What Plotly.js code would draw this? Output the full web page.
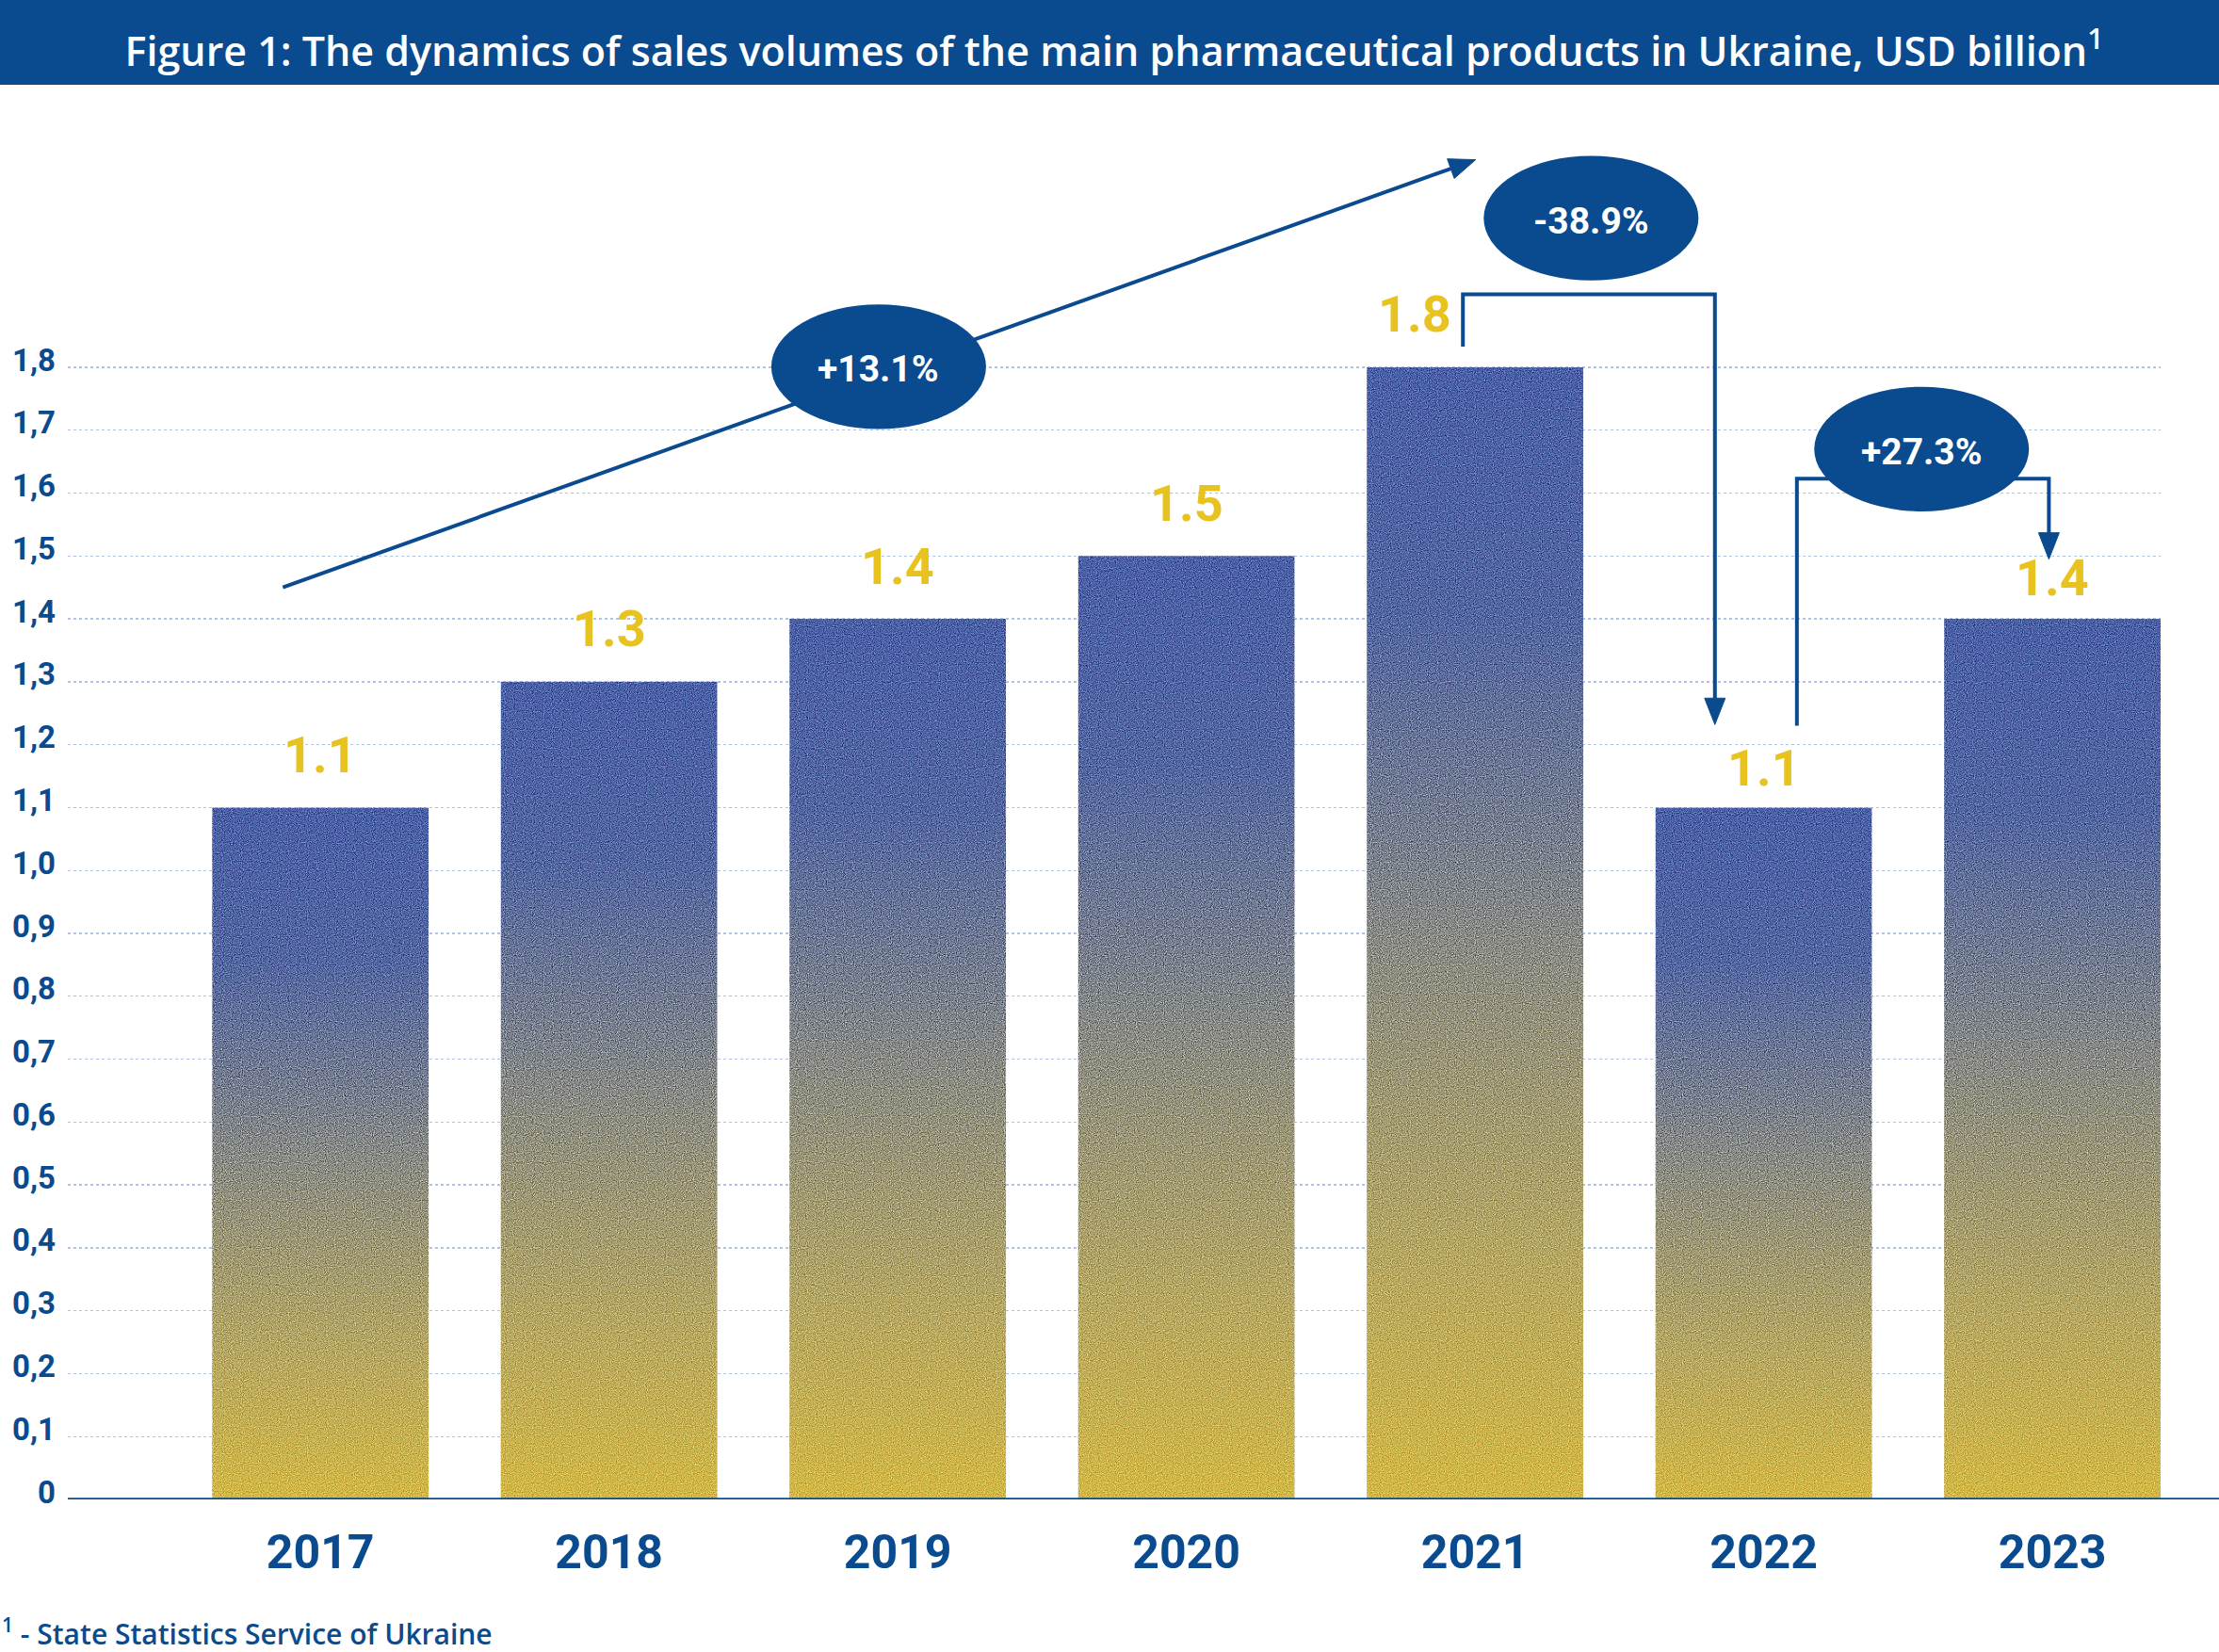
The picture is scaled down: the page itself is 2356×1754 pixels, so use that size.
<!DOCTYPE html>
<html>
<head>
<meta charset="utf-8">
<script src="https://cdn.plot.ly/plotly-3.0.1.min.js"></script>
<style>
  html, body { margin: 0; padding: 0; background: #ffffff; }
  #chart { width: 2356px; height: 1754px; }
</style>
</head>
<body>
<div id="chart"></div>
<script>
// ---------- DATA ----------
const years = ['2017', '2018', '2019', '2020', '2021', '2022', '2023'];
const sales = [1.1, 1.3, 1.4, 1.5, 1.8, 1.1, 1.4];
const valueLabels = ['1.1', '1.3', '1.4', '1.5', '1.8', '1.1', '1.4'];
const yTickValues = [0, 0.1, 0.2, 0.3, 0.4, 0.5, 0.6, 0.7, 0.8, 0.9, 1.0, 1.1, 1.2, 1.3, 1.4, 1.5, 1.6, 1.7, 1.8];
const yTickLabels = ['0', '0,1', '0,2', '0,3', '0,4', '0,5', '0,6', '0,7', '0,8', '0,9', '1,0', '1,1', '1,2', '1,3', '1,4', '1,5', '1,6', '1,7', '1,8'];
const changeLabels = ['+13.1%', '-38.9%', '+27.3%'];
const titleText = 'Figure 1: The dynamics of sales volumes of the main pharmaceutical products in Ukraine, USD billion<sup>1</sup>';
const sourceText = '<sup>1</sup> - State Statistics Service of Ukraine';

// ---------- STYLE ----------
const NAVY = '#0a4a8f';
const GOLD = '#e8c21e';
const W = 2356, H = 1754;
const M = { l: 72, r: 62, t: 130, b: 162 };
const plotW = W - M.l - M.r, plotH = H - M.t - M.b;
const xRange = [-0.875, 6.375];
const yTop = 2.1893;
const kx = plotW / (xRange[1] - xRange[0]);   // px per category unit
const ky = plotH / yTop;                       // px per value unit
const px2paperX = p => (p - M.l) / plotW;
const px2paperY = p => (H - M.b - p) / plotH;
// label lift above bar (pixels) and horizontal shift
const labelLift = [56, 56, 56, 56, 56, 42, 44];
const labelShiftX = [0, 0, 0, 0, -64, 0, 0];

const iMax = sales.indexOf(Math.max(...sales));   // 2021
const iDrop = iMax + 1;                            // 2022
const iLast = sales.length - 1;                    // 2023

const barTrace = {
  type: 'bar',
  x: years,
  y: sales,
  width: 0.75,
  marker: { color: '#6f7c98', line: { width: 0 } },
  hoverinfo: 'skip'
};

const annotations = [];
years.forEach((yr, i) => {
  annotations.push({
    x: i, y: sales[i], xref: 'x', yref: 'y',
    text: valueLabels[i], showarrow: false,
    xanchor: 'center', yanchor: 'middle',
    xshift: labelShiftX[i], yshift: labelLift[i],
    font: { family: 'Roboto', size: 54, color: GOLD, weight: 700 }
  });
});

// growth arrow 2017 -> 2021
const gStart = { x: -0.13, y: sales[0] + 0.35 };
const gTip = { x: iMax + 0.002, y: sales[iMax] + 0.33 };

// drop bracket 2021 -> 2022
const dLeftX = iMax - 0.042, dRightX = iDrop - 0.169;
const dTopY = sales[iMax] + 0.116, dLowY = sales[iMax] + 0.033;
const dTipY = sales[iDrop] + 0.132;

// rise bracket 2022 -> 2023
const rLeftX = iDrop + 0.115, rRightX = iLast - 0.012;
const rTopY = sales[iDrop] + 0.523, rLowY = sales[iDrop] + 0.130;
const rTipY = sales[iLast] + 0.095;

const ellRX = 0.372, ellRY = 0.099;
const ellipses = [
  { cx: 1.934, cy: 1.801, t: changeLabels[0] },
  { cx: 4.402, cy: 2.037, t: changeLabels[1] },
  { cx: 5.547, cy: 1.670, t: changeLabels[2] }
];

// arrowhead triangle (in data units, sized in pixels)
function arrowHead(tip, from, L, hw) {
  const dx = (tip.x - from.x) * kx, dy = (tip.y - from.y) * ky;
  const len = Math.hypot(dx, dy);
  const ux = dx / len, uy = dy / len;
  const bx = tip.x * kx - ux * L, by = tip.y * ky - uy * L;
  const nx = -uy, ny = ux;
  const c1 = { x: (bx + nx * hw) / kx, y: (by + ny * hw) / ky };
  const c2 = { x: (bx - nx * hw) / kx, y: (by - ny * hw) / ky };
  const base = { x: bx / kx, y: by / ky };
  return { path: `M ${tip.x},${tip.y} L ${c1.x},${c1.y} L ${c2.x},${c2.y} Z`, base: base };
}
const HL = 28, HW = 11;
const gHead = arrowHead(gTip, gStart, HL, HW);
const dHead = arrowHead({ x: dRightX, y: dTipY }, { x: dRightX, y: dTopY }, HL, HW);
const rHead = arrowHead({ x: rRightX, y: rTipY }, { x: rRightX, y: rTopY }, HL, HW);

const lineStyle = { color: NAVY, width: 4 };
const shapes = [
  // title band
  { type: 'rect', xref: 'paper', yref: 'paper', x0: px2paperX(0), x1: px2paperX(W), y0: px2paperY(90), y1: px2paperY(0),
    fillcolor: NAVY, line: { width: 0 }, layer: 'above' },
  // baseline
  { type: 'line', xref: 'paper', yref: 'y', x0: 0, x1: px2paperX(W), y0: 0, y1: 0,
    line: { color: NAVY, width: 3.5 }, layer: 'above' },
  // growth line
  { type: 'line', xref: 'x', yref: 'y', x0: gStart.x, y0: gStart.y, x1: gHead.base.x, y1: gHead.base.y, line: lineStyle, layer: 'above' },
  // drop bracket
  { type: 'path', xref: 'x', yref: 'y',
    path: `M ${dLeftX},${dLowY} L ${dLeftX},${dTopY} L ${dRightX},${dTopY} L ${dRightX},${dHead.base.y}`,
    line: lineStyle, layer: 'above' },
  // rise bracket
  { type: 'path', xref: 'x', yref: 'y',
    path: `M ${rLeftX},${rLowY} L ${rLeftX},${rTopY} L ${rRightX},${rTopY} L ${rRightX},${rHead.base.y}`,
    line: lineStyle, layer: 'above' }
];
[gHead, dHead, rHead].forEach(h => {
  shapes.push({ type: 'path', xref: 'x', yref: 'y', path: h.path, fillcolor: NAVY, line: { color: NAVY, width: 1 }, layer: 'above' });
});
ellipses.forEach(e => {
  shapes.push({ type: 'circle', xref: 'x', yref: 'y', x0: e.cx - ellRX, x1: e.cx + ellRX, y0: e.cy - ellRY, y1: e.cy + ellRY,
    fillcolor: NAVY, line: { width: 0 }, layer: 'above' });
  annotations.push({ x: e.cx, y: e.cy, xref: 'x', yref: 'y', text: e.t, showarrow: false,
    xanchor: 'center', yanchor: 'middle', yshift: -3,
    font: { family: 'Roboto', size: 39, color: '#ffffff', weight: 700 } });
});

// source note
annotations.push({ xref: 'paper', yref: 'paper', x: px2paperX(0), y: px2paperY(1733), xanchor: 'left', yanchor: 'middle',
  text: sourceText, showarrow: false, font: { family: 'Open Sans', size: 30, color: NAVY, weight: 600 } });

const layout = {
  width: W, height: H,
  margin: M,
  paper_bgcolor: '#ffffff', plot_bgcolor: '#ffffff',
  showlegend: false,
  title: { text: titleText, x: 0.5, xanchor: 'center', xref: 'paper', y: 1 - 55 / H, yref: 'container', yanchor: 'middle',
    font: { family: 'Open Sans', size: 43, color: '#ffffff', weight: 600 } },
  xaxis: {
    type: 'category', range: xRange, showgrid: false, zeroline: false, showline: false, ticks: '',
    tickfont: { family: 'Roboto', size: 50, color: NAVY, weight: 700 }, ticklabelstandoff: 22, fixedrange: true
  },
  yaxis: {
    range: [0, yTop], tickmode: 'array', tickvals: yTickValues, ticktext: yTickLabels,
    showgrid: true, gridcolor: '#b3c2df', griddash: 'dot', gridwidth: 1.3,
    zeroline: false, showline: false, ticks: '',
    tickfont: { family: 'Roboto', size: 33, color: NAVY, weight: 700 }, ticklabelstandoff: 12, fixedrange: true
  },
  shapes: shapes,
  annotations: annotations
};

Plotly.newPlot('chart', [barTrace], layout, { staticPlot: true, displayModeBar: false }).then(gd => {
  const svgNS = 'http://www.w3.org/2000/svg';
  const svg = gd.querySelector('.main-svg');
  let defs = svg.querySelector('defs');
  if (!defs) { defs = document.createElementNS(svgNS, 'defs'); svg.insertBefore(defs, svg.firstChild); }
  const grad = document.createElementNS(svgNS, 'linearGradient');
  grad.setAttribute('id', 'barGrad');
  grad.setAttribute('x1', '0'); grad.setAttribute('y1', '0'); grad.setAttribute('x2', '0'); grad.setAttribute('y2', '1');
  [[0, '#4c62a8'], [0.22, '#5468a3'], [0.5, '#8a8c88'], [0.78, '#b6a865'], [1, '#d3b946']].forEach(([o, c]) => {
    const s = document.createElementNS(svgNS, 'stop');
    s.setAttribute('offset', o); s.setAttribute('stop-color', c);
    grad.appendChild(s);
  });
  defs.appendChild(grad);
  const filt = document.createElementNS(svgNS, 'filter');
  filt.setAttribute('id', 'grain');
  filt.setAttribute('color-interpolation-filters', 'sRGB');
  filt.setAttribute('x', '0'); filt.setAttribute('y', '0'); filt.setAttribute('width', '1'); filt.setAttribute('height', '1');
  filt.innerHTML =
    '<feTurbulence type="fractalNoise" baseFrequency="0.9" numOctaves="1" seed="7" result="noise"/>' +
    '<feColorMatrix in="noise" type="matrix" values="0.33 0.33 0.33 0 0  0.33 0.33 0.33 0 0  0.33 0.33 0.33 0 0  0 0 0 0 1" result="gray"/>' +
    '<feComponentTransfer in="gray" result="gc">' +
      '<feFuncR type="linear" slope="3.5" intercept="-1.25"/>' +
      '<feFuncG type="linear" slope="3.5" intercept="-1.25"/>' +
      '<feFuncB type="linear" slope="3.5" intercept="-1.25"/>' +
      '<feFuncA type="linear" slope="0" intercept="0.65"/>' +
    '</feComponentTransfer>' +
    '<feBlend in="gc" in2="SourceGraphic" mode="overlay" result="bl"/>' +
    '<feComposite in="bl" in2="SourceGraphic" operator="in"/>';
  defs.appendChild(filt);
  gd.querySelectorAll('.barlayer .point path').forEach(p => {
    p.style.fill = 'url(#barGrad)';
    p.setAttribute('filter', 'url(#grain)');
  });
  // nudge y tick labels slightly upward as in the reference
  gd.querySelectorAll('.ytick text').forEach(t => {
    const tr = t.getAttribute('transform') || '';
    t.setAttribute('transform', tr + ' translate(0,-8)');
  });
});
</script>
</body>
</html>
